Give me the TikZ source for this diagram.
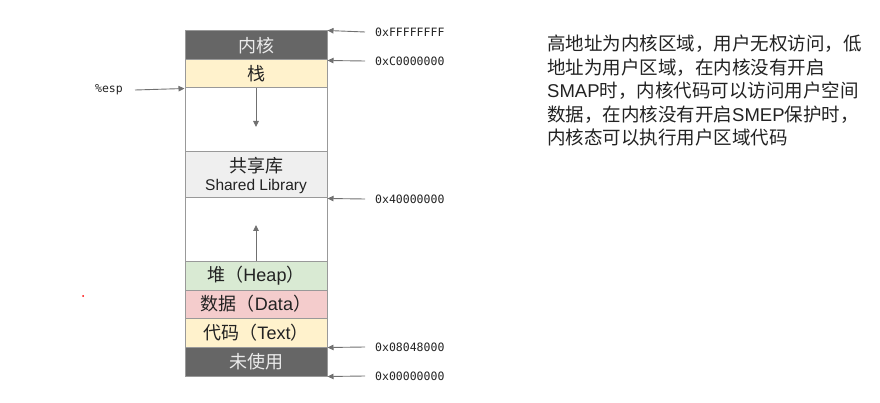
\documentclass[tikz,border=0pt]{standalone}
\usepackage{fontspec}
\setmainfont{Noto Sans CJK SC}
\newfontfamily\lat{Liberation Sans}
\newfontfamily\mono{DejaVu Sans Mono}
\usetikzlibrary{arrows.meta}
\definecolor{bord}{HTML}{999999}
\definecolor{dark}{HTML}{666666}
\definecolor{yel}{HTML}{FFF2CC}
\definecolor{lgray}{HTML}{EFEFEF}
\definecolor{grn}{HTML}{D9EAD3}
\definecolor{pnk}{HTML}{F4CCCC}
\definecolor{arrc}{HTML}{707070}
\definecolor{txt}{HTML}{222222}
\tikzset{
  cell/.style={draw=bord, line width=1pt, minimum width=142pt, inner sep=0pt, text=txt,
    font=\fontsize{18}{21}\selectfont, align=center},
  darkcell/.style={cell, fill=dark, text=white!92!black},
  hex/.style={inner sep=0pt, anchor=west, text=txt, font=\mono\fontsize{11.5}{12}\selectfont},
  arr/.style={draw=arrc, line width=0.9pt, -{Triangle[length=6pt,width=5.5pt]}},
  desc/.style={inner sep=0pt, anchor=base west, text=txt, font=\fontsize{18.5}{21}\selectfont}
}
\begin{document}
\begin{tikzpicture}[x=1pt,y=-1pt]
\useasboundingbox (0,0) rectangle (880,403);
% memory cells
\node[darkcell, minimum height=29pt] (kernel) at (256,45.5) {内核};
\node[cell, fill=yel, minimum height=28pt] (stack) at (256,74) {栈};
\node[cell, minimum height=64pt] (gap1) at (256,120) {};
\node[cell, fill=lgray, minimum height=46pt] (shlib) at (256,175) {共享库\\[-3pt]{\lat\fontsize{15.5}{17}\selectfont Shared Library}};
\node[cell, minimum height=63pt] (gap2) at (256,229.5) {};
\node[cell, fill=grn, minimum height=29pt] (heap) at (256,275.5) {堆（{\lat Heap}）};
\node[cell, fill=pnk, minimum height=28pt] (data) at (256,304) {数据（{\lat Data}）};
\node[cell, fill=yel, minimum height=29pt] (text) at (256,332.5) {代码（{\lat Text}）};
\node[darkcell, minimum height=29pt] (unused) at (256,361.5) {未使用};
% growth arrows
\coordinate (downend) at (256,127);
\coordinate (upend) at (256,225);
\draw[arr] (stack.south) -- (downend);
\draw[arr] (heap.north) -- (upend);
% address labels
\node[hex] (hF) at (375,32) {0xFFFFFFFF};
\node[hex] (hC) at (375,61) {0xC0000000};
\node[hex] (h4) at (375,199) {0x40000000};
\node[hex] (h08) at (375,347) {0x08048000};
\node[hex] (h0) at (375,376) {0x00000000};
\draw[arr] ([xshift=-10pt]hF.west) -- (kernel.north east);
\draw[arr] ([xshift=-10pt]hC.west) -- (kernel.south east);
\draw[arr] ([xshift=-10pt]h4.west) -- (shlib.south east);
\draw[arr] ([xshift=-10pt]h08.west) -- (text.south east);
\draw[arr] ([xshift=-10pt]h0.west) -- (unused.south east);
% esp
\node[hex, anchor=east] (esp) at (123,90) {\%esp};
\draw[arr] ([xshift=12pt]esp.east) -- (stack.south west);
% stray red dot
\fill[red] (83,296) circle (1pt);
% description
\node[desc] (d1) at (547,51) {高地址为内核区域，用户无权访问，低};
\node[desc] (d2) at (547,74.5) {地址为用户区域，在内核没有开启};
\node[desc] (d3) at (547,98) {{\lat SMAP}时，内核代码可以访问用户空间};
\node[desc] (d4) at (547,121.5) {数据，在内核没有开启{\lat SMEP}保护时，};
\node[desc] (d5) at (547,145) {内核态可以执行用户区域代码};
\end{tikzpicture}
\end{document}
